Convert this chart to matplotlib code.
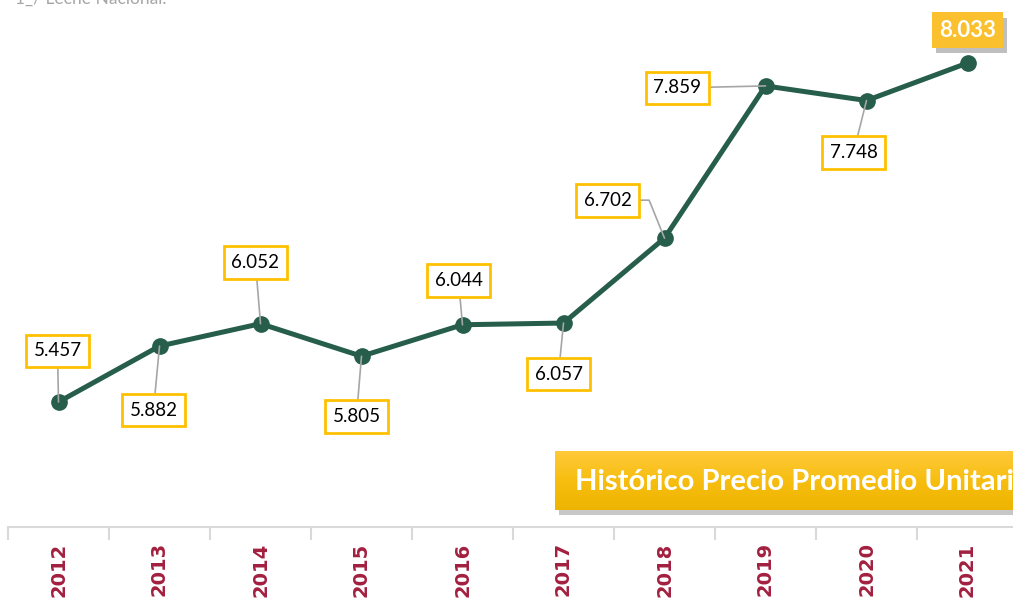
import numpy as np
import matplotlib
matplotlib.use("Agg")
import matplotlib.pyplot as plt
import matplotlib.patheffects as pe

# Data
years = ["2012", "2013", "2014", "2015", "2016", "2017", "2018", "2019", "2020", "2021"]
precio = [5.457, 5.882, 6.052, 5.805, 6.044, 6.057, 6.702, 7.859, 7.748, 8.033]
nota = "1_/ Leche Nacional."
titulo = "Histórico Precio Promedio Unitario"

# label offsets (pixels, from point to label centre)
offsets = [(-1, 51), (-6, -64), (-5, 61), (-5, -60), (-4, 44),
           (-5, -51), (-57, 38), (-88, -2), (-13, -52), (0, 33)]

line_c = '#265E4B'
box_c = '#FFC000'
year_c = '#A3203F'
W, H = 1013, 599

fig = plt.figure(figsize=(W / 100, H / 100), dpi=100)
ax = fig.add_axes([8 / W, (H - 527) / H, (W - 8) / W, 527 / H])

x = np.arange(len(years))
ax.plot(x, precio, color=line_c, lw=3.6, marker='o', ms=11, zorder=3)

for s in ['top', 'right', 'left']:
    ax.spines[s].set_visible(False)
ax.spines['bottom'].set_color('#D9D9D9')
ax.spines['bottom'].set_linewidth(1.5)
ax.set_yticks([])
ax.set_xticks(x)
ax.set_xticklabels(years, rotation=90, fontsize=14, fontweight='bold',
                   color=year_c, family='DejaVu Sans')
ax.tick_params(axis='x', which='major', length=0, pad=11)
ax.set_xticks(np.arange(-0.5, 9.5, 1), minor=True)
ax.tick_params(axis='x', which='minor', length=9, width=1.5, color='#D9D9D9')

ax.set_xlim(-0.5, -0.5 + (W - 8) / 101)
ax.set_ylim(4.507, 8.512)

# data labels
for i, (xi, v) in enumerate(zip(x, precio)):
    dx, dy = offsets[i]
    if i == len(years) - 1:
        ann = ax.annotate(f"{v:.3f}", (xi, v), xytext=(dx, dy), textcoords='offset pixels',
                          ha='center', va='center', fontsize=16, fontweight='bold',
                          color='white', family='Lato',
                          bbox=dict(boxstyle='square,pad=0.32', fc='#FBC02D', ec='none'),
                          zorder=5)
        ann.get_bbox_patch().set_path_effects(
            [pe.SimplePatchShadow(offset=(3, -4), shadow_rgbFace='#808080', alpha=0.5),
             pe.Normal()])
        continue
    cs = 'angle,angleA=0,angleB=112,rad=0' if i == 6 else 'arc3'
    ax.annotate(f"{v:.3f}", (xi, v), xytext=(dx, dy), textcoords='offset pixels',
                ha='center', va='center', fontsize=13.5, color='black', family='Lato',
                bbox=dict(boxstyle='square,pad=0.42', fc='white', ec=box_c, lw=2),
                arrowprops=dict(arrowstyle='-', color='#A6A6A6', lw=1.2,
                                connectionstyle=cs, shrinkA=0, shrinkB=0),
                zorder=5)

# note at top
fig.text(15 / W, 1 - 4 / H, nota, fontsize=12.5, color='#A6A6A6', family='Lato',
         ha='left', va='baseline')

# title banner with shadow
bx, by, bw, bh = 555, 451, 470, 59
sax = fig.add_axes([(bx + 4) / W, (H - by - bh - 5) / H, bw / W, bh / H])
sax.set_facecolor('#B0B0B0')
sax.patch.set_alpha(0.7)
sax.set_xticks([])
sax.set_yticks([])
for s in sax.spines.values():
    s.set_visible(False)

bax = fig.add_axes([bx / W, (H - by - bh) / H, bw / W, bh / H])
grad = np.linspace(0, 1, 100).reshape(-1, 1)
cmap = matplotlib.colors.LinearSegmentedColormap.from_list('g', ['#FFC93A', '#F7BE10', '#EDB400'])
bax.imshow(grad, aspect='auto', cmap=cmap, extent=[0, 1, 0, 1], origin='upper')
bax.set_axis_off()
bax.text(20 / bw, 0.48, titulo, transform=bax.transAxes, fontsize=21, fontweight='bold',
         color='white', family='Lato', ha='left', va='center')

fig.savefig('out.png', dpi=100)
